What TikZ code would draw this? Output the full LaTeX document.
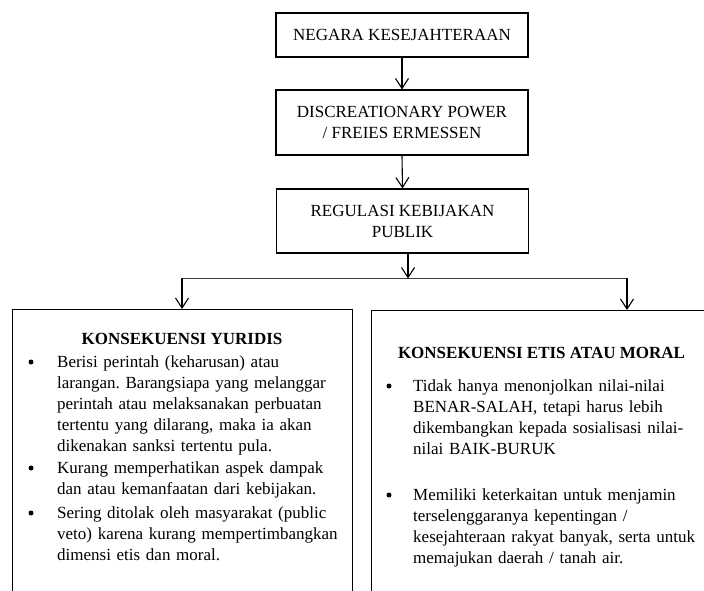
\documentclass[tikz,border=0pt]{standalone}
\usepackage{fontspec}
\setmainfont{Liberation Serif}
\usetikzlibrary{arrows.meta}
\frenchspacing

\begin{document}
\begin{tikzpicture}[x=1pt,y=-1pt,line cap=round,
    >={Straight Barb[length=10pt,width=13pt]},
    font=\fontsize{17}{21}\selectfont,
    kotak/.style={draw,line width=1.1pt,align=center,minimum width=252pt,inner sep=0pt},
    panel/.style={draw,line width=1.1pt,anchor=north west,inner sep=0pt},
    judul/.style={font=\fontsize{17}{21}\selectfont\bfseries,anchor=base},
    butir/.style={anchor=base west,text width=300pt,align=left,inner sep=0pt},
    titik/.style={circle,fill,inner sep=0pt,minimum size=5pt},
    panah/.style={->,line width=1.1pt},
    garis/.style={line width=0.9pt,black!75}]
            \useasboundingbox (0,0) rectangle (704,591);
            \clip (0,0) rectangle (704,591);

            % the three boxes on top
            \node[kotak,minimum height=44pt] (negara) at (402,35) {NEGARA KESEJAHTERAAN};
            \node[kotak,minimum height=65pt] (diskresi) at (402,122.5) {DISCREATIONARY POWER\\/ FREIES ERMESSEN};
            \node[kotak,minimum height=64pt] (regulasi) at (402.5,221) {REGULASI KEBIJAKAN\\PUBLIK};

            % the two boxes below
            \node[panel,minimum width=340pt,minimum height=320pt] (yuridis) at (12,309) {};
            \node[panel,minimum width=514pt,minimum height=320pt] (etis) at (371,310) {};

            % where the line splits
            \coordinate (cabang) at (408,278.5);
            \coordinate (kiri) at (182,278.5);
            \coordinate (kanan) at (627,278.5);

            % arrows
            \draw[panah] (negara.south) -- (diskresi.north);
            \draw[panah] (diskresi.south) -- (regulasi.north);
            \draw[panah] (regulasi.south -| cabang) -- (cabang);
            \draw[garis] (kiri) -- (kanan);
            \draw[panah] (kiri) -- (kiri |- yuridis.north);
            \draw[panah] (kanan) -- (kanan |- etis.north);

            % left box text
            \node[judul] (judulkiri) at (182,344) {KONSEKUENSI YURIDIS};
            \node[titik] (t1) at (31,362) {};
            \node[butir] (b1) at (57,367) {Berisi perintah (keharusan) atau\\larangan. Barangsiapa yang melanggar\\perintah atau melaksanakan perbuatan\\tertentu yang dilarang, maka ia akan\\dikenakan sanksi tertentu pula.};
            \node[titik] (t2) at (31,468) {};
            \node[butir] (b2) at (57,473) {Kurang memperhatikan aspek dampak\\dan atau kemanfaatan dari kebijakan.};
            \node[titik] (t3) at (31,513) {};
            \node[butir] (b3) at (57,518) {Sering ditolak oleh masyarakat (public\\veto) karena kurang mempertimbangkan\\dimensi etis dan moral.};

            % right box text
            \node[judul] (judulkanan) at (541.5,358) {KONSEKUENSI ETIS ATAU MORAL};
            \node[titik] (t4) at (389,386) {};
            \node[butir] (b4) at (413,391) {Tidak hanya menonjolkan nilai-nilai\\BENAR-SALAH, tetapi harus lebih\\dikembangkan kepada sosialisasi nilai-\\nilai BAIK-BURUK};
            \node[titik] (t5) at (389,495) {};
            \node[butir] (b5) at (413,500) {Memiliki keterkaitan untuk menjamin\\terselenggaranya kepentingan /\\kesejahteraan rakyat banyak, serta untuk\\memajukan daerah / tanah air.};

        \end{tikzpicture}
\end{document}
